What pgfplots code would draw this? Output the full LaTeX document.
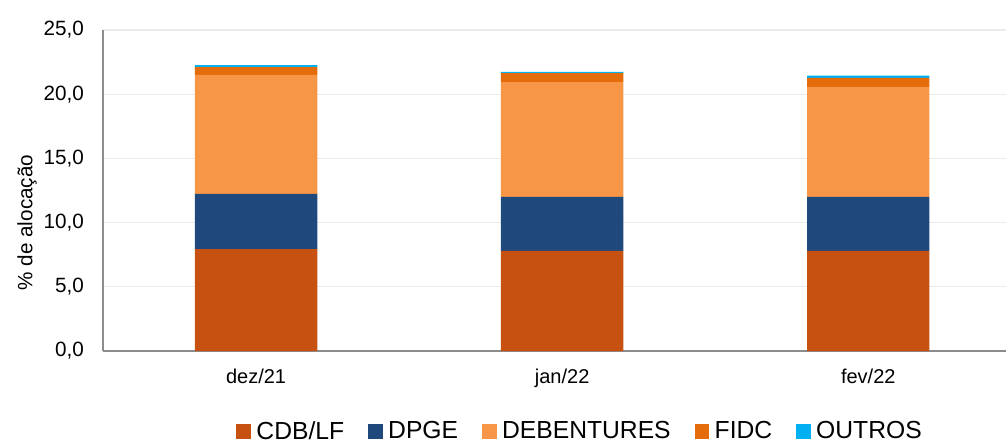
\documentclass[border=0pt]{standalone}
\usepackage{pgfplots}
\pgfplotsset{compat=1.18}
\usepackage{fontspec}
\setmainfont{Liberation Sans}

\definecolor{cdb}{HTML}{C65110}
\definecolor{dpge}{HTML}{1F497D}
\definecolor{deb}{HTML}{F79646}
\definecolor{fidc}{HTML}{E46C0A}
\definecolor{outros}{HTML}{00B0F0}

\begin{document}
\begin{tikzpicture}
  \begin{axis}[
    name=ax,
    scale only axis,
    width=677.25pt,
    height=240.75pt,
    ybar stacked,
    bar width=0.4,
    ymin=0, ymax=25,
    ytick={0,5,...,25},
    xmin=-0.5, xmax=2.45,
    xtick=data,
    xticklabels={dez/21, jan/22, fev/22},
    axis x line*=bottom,
    axis y line*=left,
    axis line style={draw=black!45, line width=0.8pt, -},
    major tick length=0pt,
    ymajorgrids=true,
    grid style={draw=black!8, line width=0.8pt},
    tick label style={font=\fontsize{15.5}{18}\selectfont},
    /pgf/number format/.cd, fixed, fixed zerofill, precision=1, use comma, assume math mode=true,
    /pgfplots/.cd,
    yticklabel style={xshift=-10.75pt},
    xticklabel style={yshift=-10pt, font=\fontsize{15}{18}\selectfont},
    ylabel={\% de alocação},
    ylabel style={font=\fontsize{15.5}{18}\selectfont, at={(axis description cs:-0.084,0.40)}, anchor=center},
    legend columns=-1,
    legend style={draw=none, at={(0.528,-0.25)}, anchor=center,
      font=\fontsize{18.5}{21}\selectfont,
      nodes={inner sep=1pt},
      /tikz/every even column/.append style={column sep=17pt}},
    legend image code/.code={\fill[#1] (0pt,-5.5pt) rectangle (11pt,5.5pt); \path (14pt,0pt);},
  ]
    \addplot[fill=cdb, draw=none] coordinates {(0,7.94) (1,7.79) (2,7.80)};
    \addplot[fill=dpge, draw=none] coordinates {(0,4.29) (1,4.21) (2,4.20)};
    \addplot[fill=deb, draw=none] coordinates {(0,9.27) (1,8.95) (2,8.58)};
    \addplot[fill=fidc, draw=none] coordinates {(0,0.60) (1,0.70) (2,0.70)};
    \addplot[fill=outros, draw=none] coordinates {(0,0.17) (1,0.08) (2,0.16)};
    \legend{CDB/LF, DPGE, DEBENTURES, FIDC, OUTROS}
  \end{axis}
  \pgfresetboundingbox
  \path (-77.25pt,-71.25pt) rectangle (677.25pt,263.25pt);
\end{tikzpicture}
\end{document}
